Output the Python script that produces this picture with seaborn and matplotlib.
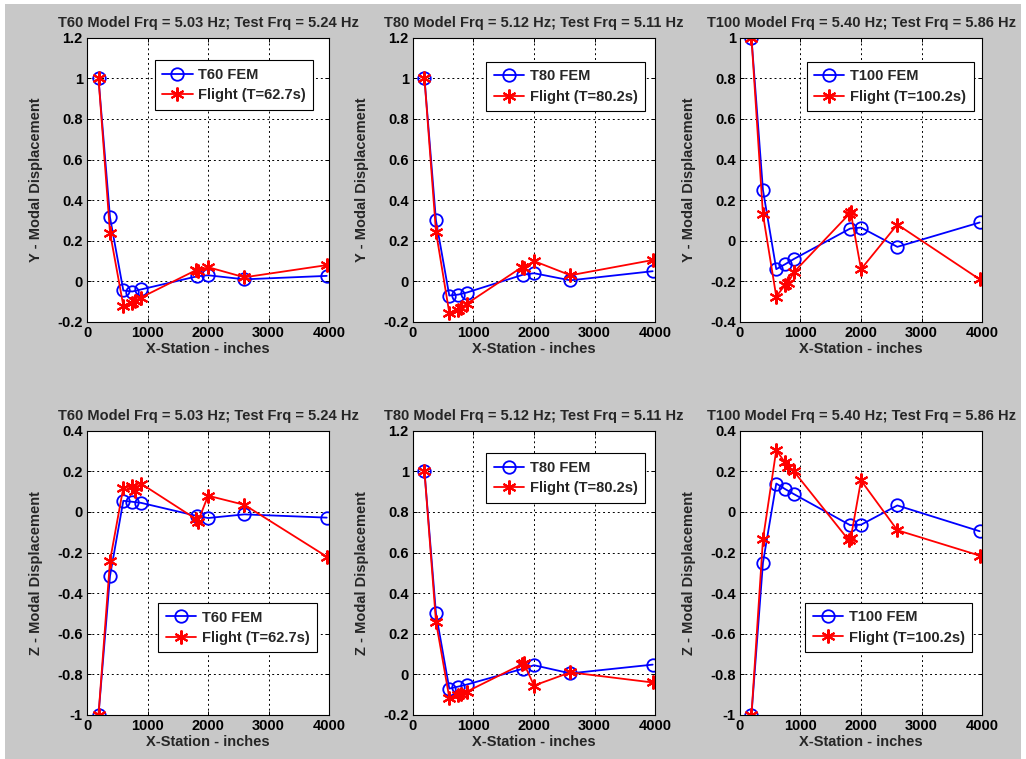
import matplotlib
matplotlib.use("Agg")
import matplotlib.pyplot as plt
import matplotlib.ticker as mticker
import seaborn as sns
import pandas as pd

sns.set_theme(style="white")
plt.rcParams["font.family"] = ["Liberation Sans", "DejaVu Sans"]
plt.rcParams["font.weight"] = "bold"

# Sensor stations along the vehicle (inches)
fem_x = [190, 380, 600, 750, 890, 1820, 2000, 2600, 3960]
flt_x = [190, 380, 600, 740, 790, 890, 1800, 1830, 2000, 2600, 3960]

# Y-direction mode shapes
y_t60_fem = [1.0, 0.315, -0.045, -0.05, -0.04, 0.025, 0.03, 0.01, 0.027]
y_t60_flt = [1.0, 0.24, -0.12, -0.105, -0.095, -0.08, 0.055, 0.05, 0.07, 0.02, 0.08]
y_t80_fem = [1.0, 0.30, -0.07, -0.065, -0.055, 0.033, 0.04, 0.005, 0.05]
y_t80_flt = [1.0, 0.245, -0.155, -0.14, -0.13, -0.11, 0.07, 0.065, 0.10, 0.03, 0.105]
y_t100_fem = [1.0, 0.25, -0.14, -0.115, -0.09, 0.06, 0.065, -0.03, 0.09]
y_t100_flt = [1.0, 0.13, -0.275, -0.22, -0.21, -0.155, 0.13, 0.14, -0.14, 0.08, -0.19]

# Z-direction mode shapes
z_t60_fem = [-1.0, -0.315, 0.055, 0.05, 0.045, -0.02, -0.03, -0.012, -0.028]
z_t60_flt = [-1.0, -0.24, 0.12, 0.13, 0.105, 0.14, -0.035, -0.05, 0.08, 0.035, -0.22]
z_t80_fem = [1.0, 0.30, -0.07, -0.06, -0.05, 0.028, 0.045, 0.005, 0.048]
z_t80_flt = [1.0, 0.26, -0.115, -0.10, -0.095, -0.085, 0.05, 0.055, -0.055, 0.01, -0.04]
z_t100_fem = [-1.0, -0.25, 0.14, 0.112, 0.088, -0.065, -0.063, 0.032, -0.095]
z_t100_flt = [-1.0, -0.135, 0.305, 0.245, 0.22, 0.20, -0.14, -0.13, 0.155, -0.09, -0.215]

titles = [
    "T60 Model Frq = 5.03 Hz; Test Frq = 5.24 Hz",
    "T80 Model Frq = 5.12 Hz; Test Frq = 5.11 Hz",
    "T100 Model Frq = 5.40 Hz; Test Frq = 5.86 Hz",
]
fem_names = ["T60 FEM", "T80 FEM", "T100 FEM"]
flt_names = ["Flight (T=62.7s)", "Flight (T=80.2s)", "Flight (T=100.2s)"]

panels = [
    # row, col, fem, flight, ylim, ylabel, legend anchor (x, y, loc)
    (0, 0, y_t60_fem, y_t60_flt, (-0.2, 1.2), "Y - Modal Displacement", (0.935, 0.92, "upper right")),
    (0, 1, y_t80_fem, y_t80_flt, (-0.2, 1.2), "Y - Modal Displacement", (0.96, 0.915, "upper right")),
    (0, 2, y_t100_fem, y_t100_flt, (-0.4, 1.0), "Y - Modal Displacement", (0.965, 0.915, "upper right")),
    (1, 0, z_t60_fem, z_t60_flt, (-1.0, 0.4), "Z - Modal Displacement", (0.95, 0.22, "lower right")),
    (1, 1, z_t80_fem, z_t80_flt, (-0.2, 1.2), "Z - Modal Displacement", (0.96, 0.92, "upper right")),
    (1, 2, z_t100_fem, z_t100_flt, (-1.0, 0.4), "Z - Modal Displacement", (0.96, 0.222, "lower right")),
]

fig = plt.figure(figsize=(10.26, 7.59), dpi=100)
fig.patch.set_facecolor("white")
bg = plt.Rectangle((0.005, 0.0), 0.99, 0.995, transform=fig.transFigure,
                   facecolor="#c8c8c8", edgecolor="none", zorder=-10)
fig.patches.append(bg)

lefts = [0.0848, 0.4025, 0.7212]
bottoms = [0.5758, 0.058]
w, h = 0.236, 0.3745

asterisk = (6, 2, 0)

for row, col, fem, flt, ylim, ylabel, (lx, ly, loc) in panels:
    ax = fig.add_axes([lefts[col], bottoms[row], w, h])
    ax.set_facecolor("white")
    df_fem = pd.DataFrame({"x": fem_x, "y": fem})
    df_flt = pd.DataFrame({"x": flt_x, "y": flt})
    sns.lineplot(data=df_fem, x="x", y="y", ax=ax, color="#0000ff", lw=1.3,
                 marker="o", markersize=9, markerfacecolor="none",
                 markeredgecolor="#0000ff", markeredgewidth=1.3,
                 estimator=None, sort=False, label=fem_names[col])
    sns.lineplot(data=df_flt, x="x", y="y", ax=ax, color="#ff0000", lw=1.3,
                 marker=asterisk, markersize=10, markeredgecolor="#ff0000",
                 markeredgewidth=1.5, estimator=None, sort=False,
                 label=flt_names[col])
    ax.set_xlim(0, 4000)
    ax.set_ylim(*ylim)
    ax.xaxis.set_major_locator(mticker.MultipleLocator(1000))
    ax.yaxis.set_major_locator(mticker.MultipleLocator(0.2))
    ax.yaxis.set_major_formatter(mticker.FuncFormatter(lambda v, p: f"{round(v, 1):g}"))
    ax.grid(True, color="black", linestyle=(0, (2, 3)), linewidth=0.7)
    for s in ax.spines.values():
        s.set_color("black")
        s.set_linewidth(0.8)
    ax.tick_params(axis="both", direction="in", length=3, width=0.7,
                   colors="black", labelsize=10.5, top=True, right=True,
                   bottom=True, left=True, pad=3)
    for lab in ax.get_xticklabels() + ax.get_yticklabels():
        lab.set_fontweight("bold")
    ax.set_title(titles[col], fontsize=10.5, fontweight="bold", pad=8)
    ax.set_xlabel("X-Station - inches", fontsize=10.5, fontweight="bold", labelpad=1)
    ax.set_ylabel(ylabel, fontsize=10.5, fontweight="bold", labelpad=10)
    leg = ax.legend(loc=loc, bbox_to_anchor=(lx, ly), fontsize=10.5,
                    frameon=True, fancybox=False, framealpha=1,
                    edgecolor="black", handlelength=2.1, borderpad=0.5,
                    labelspacing=0.45, handletextpad=0.4, borderaxespad=0)
    leg.get_frame().set_linewidth(0.8)
    for t in leg.get_texts():
        t.set_fontweight("bold")

fig.savefig("out.png", dpi=100, facecolor=fig.get_facecolor())
